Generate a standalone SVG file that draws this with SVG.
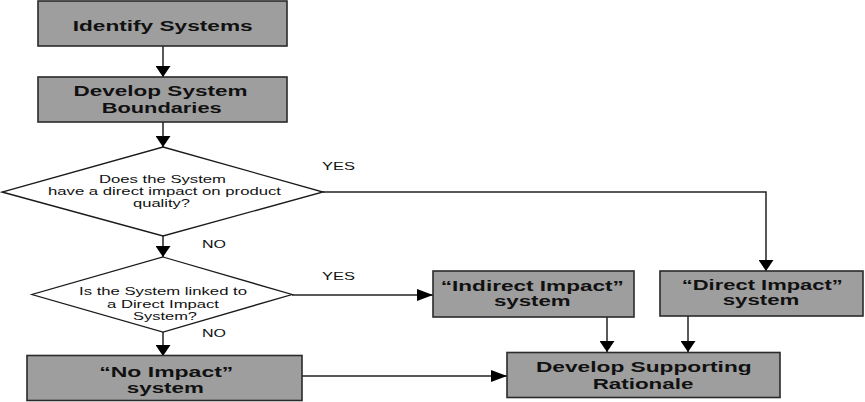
<svg xmlns="http://www.w3.org/2000/svg" width="865" height="402" viewBox="0 0 865 402">
<style>
.box{fill:#9e9e9e;stroke:#2a2a2a;stroke-width:1.6}
.dia{fill:#ffffff;stroke:#1a1a1a;stroke-width:1.3}
.bt{font-family:"Liberation Sans",Arial,sans-serif;font-weight:bold;font-size:14.5px;fill:#111;text-anchor:middle}
.dt{font-family:"Liberation Sans",Arial,sans-serif;font-size:10.5px;fill:#111;text-anchor:middle}
.lb{font-family:"Liberation Sans",Arial,sans-serif;font-size:11px;fill:#111}
.ln{fill:none;stroke:#222;stroke-width:1.5}
</style>
<defs>
<marker id="av" markerWidth="11" markerHeight="15" refX="11" refY="7.5" orient="auto" markerUnits="userSpaceOnUse" viewBox="0 0 11 15">
<path d="M0,0 L11,7.5 L0,15 Z" fill="#000"/>
</marker>
<marker id="ah" markerWidth="16" markerHeight="12" refX="16" refY="6" orient="auto" markerUnits="userSpaceOnUse" viewBox="0 0 16 12">
<path d="M0,0 L16,6 L0,12 Z" fill="#000"/>
</marker>
</defs>
<g id="connectors">
<path class="ln" d="M163,46 L163,77" marker-end="url(#av)"/>
<path class="ln" d="M163,122 L163,147" marker-end="url(#av)"/>
<path class="ln" d="M163,236 L163,257" marker-end="url(#av)"/>
<path class="ln" d="M323,192 L766,192 L766,271" marker-end="url(#av)"/>
<path class="ln" d="M292,295 L433,295" marker-end="url(#ah)"/>
<path class="ln" d="M163,332 L163,356" marker-end="url(#av)"/>
<path class="ln" d="M302,376 L507,376" marker-end="url(#ah)"/>
<path class="ln" d="M607,317 L607,352" marker-end="url(#av)"/>
<path class="ln" d="M688,316 L688,352" marker-end="url(#av)"/>
<text class="lb" x="322" y="170" textLength="33" lengthAdjust="spacingAndGlyphs">YES</text>
<text class="lb" x="322" y="280" textLength="33" lengthAdjust="spacingAndGlyphs">YES</text>
<text class="lb" x="202" y="248" textLength="24" lengthAdjust="spacingAndGlyphs">NO</text>
<text class="lb" x="202" y="337" textLength="24" lengthAdjust="spacingAndGlyphs">NO</text>
</g>
<g id="identify">
<rect class="box" x="38" y="1" width="249" height="45"/>
<text class="bt" x="162.7" y="31" textLength="180" lengthAdjust="spacingAndGlyphs">Identify Systems</text>
</g>
<g id="boundaries">
<rect class="box" x="38" y="77" width="249" height="45"/>
<text class="bt" x="160.5" y="96" textLength="174" lengthAdjust="spacingAndGlyphs">Develop System</text>
<text class="bt" x="161.7" y="113" textLength="120" lengthAdjust="spacingAndGlyphs">Boundaries</text>
</g>
<g id="decision1">
<polygon class="dia" points="163,147 323,192 163,236 2,192"/>
<text class="dt" x="162.5" y="183" textLength="127" lengthAdjust="spacingAndGlyphs">Does the System</text>
<text class="dt" x="164.5" y="195" textLength="233" lengthAdjust="spacingAndGlyphs">have a direct impact on product</text>
<text class="dt" x="161.5" y="207" textLength="57" lengthAdjust="spacingAndGlyphs">quality?</text>
</g>
<g id="decision2">
<polygon class="dia" points="163,257 292,294.5 163,332 32,294.5"/>
<text class="dt" x="163" y="295" textLength="168" lengthAdjust="spacingAndGlyphs">Is the System linked to</text>
<text class="dt" x="163" y="307.5" textLength="112" lengthAdjust="spacingAndGlyphs">a Direct Impact</text>
<text class="dt" x="165" y="319.5" textLength="64" lengthAdjust="spacingAndGlyphs">System?</text>
</g>
<g id="noimpact">
<rect class="box" x="27" y="355.5" width="275" height="45"/>
<text class="bt" x="166.3" y="376.5" textLength="134" lengthAdjust="spacingAndGlyphs">“No Impact”</text>
<text class="bt" x="165.3" y="392.5" textLength="77" lengthAdjust="spacingAndGlyphs">system</text>
</g>
<g id="indirect">
<rect class="box" x="433" y="271" width="201" height="46"/>
<text class="bt" x="532.3" y="291" textLength="183" lengthAdjust="spacingAndGlyphs">“Indirect Impact”</text>
<text class="bt" x="532.3" y="306" textLength="76.7" lengthAdjust="spacingAndGlyphs">system</text>
</g>
<g id="direct">
<rect class="box" x="660" y="271" width="203" height="45"/>
<text class="bt" x="762.3" y="289.5" textLength="161" lengthAdjust="spacingAndGlyphs">“Direct Impact”</text>
<text class="bt" x="761" y="305" textLength="76.6" lengthAdjust="spacingAndGlyphs">system</text>
</g>
<g id="rationale">
<rect class="box" x="507" y="352.5" width="273" height="45"/>
<text class="bt" x="643.8" y="372" textLength="215.7" lengthAdjust="spacingAndGlyphs">Develop Supporting</text>
<text class="bt" x="643" y="389" textLength="100.7" lengthAdjust="spacingAndGlyphs">Rationale</text>
</g>
</svg>
